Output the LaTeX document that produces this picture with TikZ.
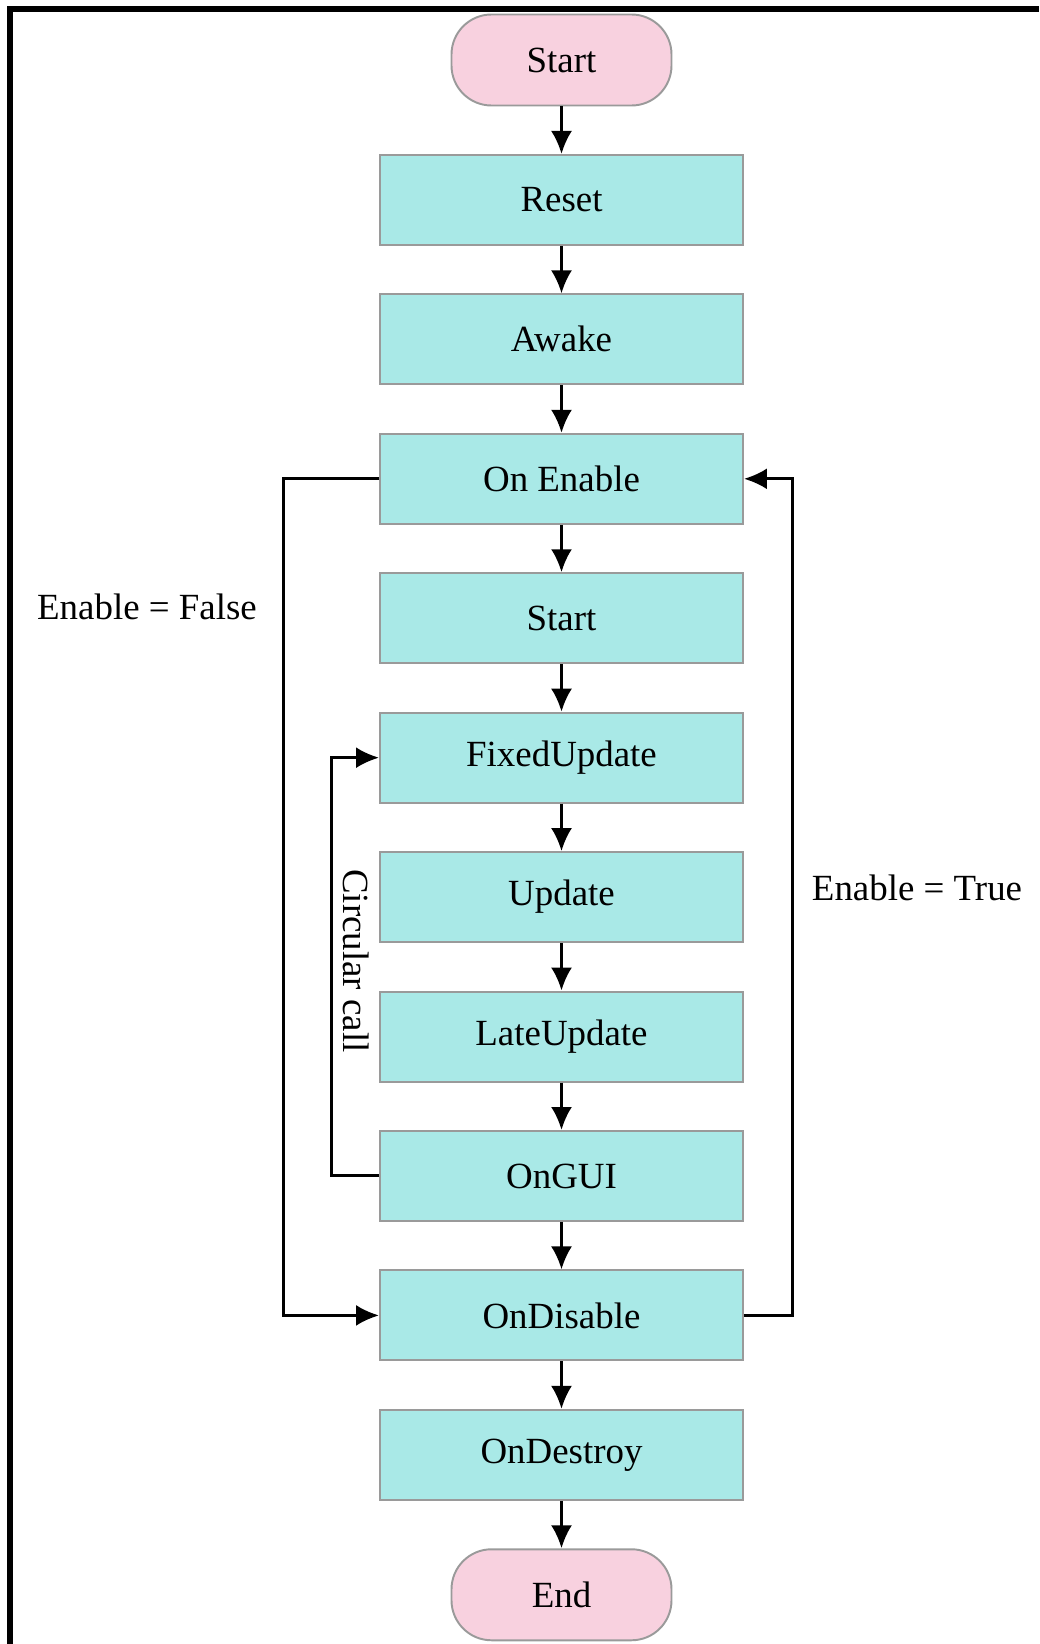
\documentclass[tikz,border=0pt]{standalone}
\usepackage{fontspec}
\setmainfont{Liberation Serif}
\usepackage{xcolor}
\usetikzlibrary{positioning}
\usetikzlibrary{arrows.meta}

\definecolor{callcyan}{HTML}{A9E9E7}
\definecolor{termpink}{HTML}{F8D1DF}
\definecolor{rimgrey}{HTML}{9A9A9A}

\begin{document}
\begin{tikzpicture}[->,>={Latex[length=4.6mm,width=4.2mm]},line width=1.7pt,
    node distance=0.95cm,font=\fontsize{21}{25}\selectfont,
    call/.style={rectangle,draw=rimgrey,line width=1.1pt,fill=callcyan,
      minimum width=7.26cm,minimum height=1.8cm,inner sep=1pt},
    term/.style={rectangle,rounded corners=0.8cm,draw=rimgrey,line width=1.1pt,
      fill=termpink,minimum width=4.4cm,minimum height=1.82cm,inner sep=1pt}]
\useasboundingbox (0,0) rectangle (20.78,-32.88);
\draw[-,line width=0.12cm] (0.2,-32.88) |- (20.78,-0.18);

\node[term]  (start) at (11.23,-1.2)      {Start};
\node[call]  (reset)     [below=of start]     {Reset};
\node[call]  (awake)     [below=of reset]     {Awake};
\node[call]  (onenable)  [below=of awake]     {On Enable};
\node[call]  (startfn)   [below=of onenable]  {Start};
\node[call]  (fixed)     [below=of startfn]   {FixedUpdate};
\node[call]  (update)    [below=of fixed]     {Update};
\node[call]  (late)      [below=of update]    {LateUpdate};
\node[call]  (ongui)     [below=of late]      {OnGUI};
\node[call]  (ondisable) [below=of ongui]     {OnDisable};
\node[call]  (ondestroy) [below=of ondisable] {OnDestroy};
\node[term]  (finish)    [below=of ondestroy] {End};
\path (start)     edge (reset)
      (reset)     edge (awake)
      (awake)     edge (onenable)
      (onenable)  edge (startfn)
      (startfn)   edge (fixed)
      (fixed)     edge (update)
      (update)    edge (late)
      (late)      edge (ongui)
      (ongui)     edge (ondisable)
      (ondisable) edge (ondestroy)
      (ondestroy) edge (finish);

% loops round the update calls
\draw (onenable.west) -- ++(-1.92,0) |- (ondisable.west);
\draw (ondisable.east) -- ++(0.98,0) |- (onenable.east);
\draw (ongui.west) -- ++(-0.96,0) |- (fixed.west);

\node (falselbl) at (2.94,-12.14) {Enable = False};
\node (truelbl)  at (18.34,-17.76) {Enable = True};
\node[rotate=-90] (circlbl) at (7.12,-19.22) {Circular call};
\end{tikzpicture}
\end{document}
